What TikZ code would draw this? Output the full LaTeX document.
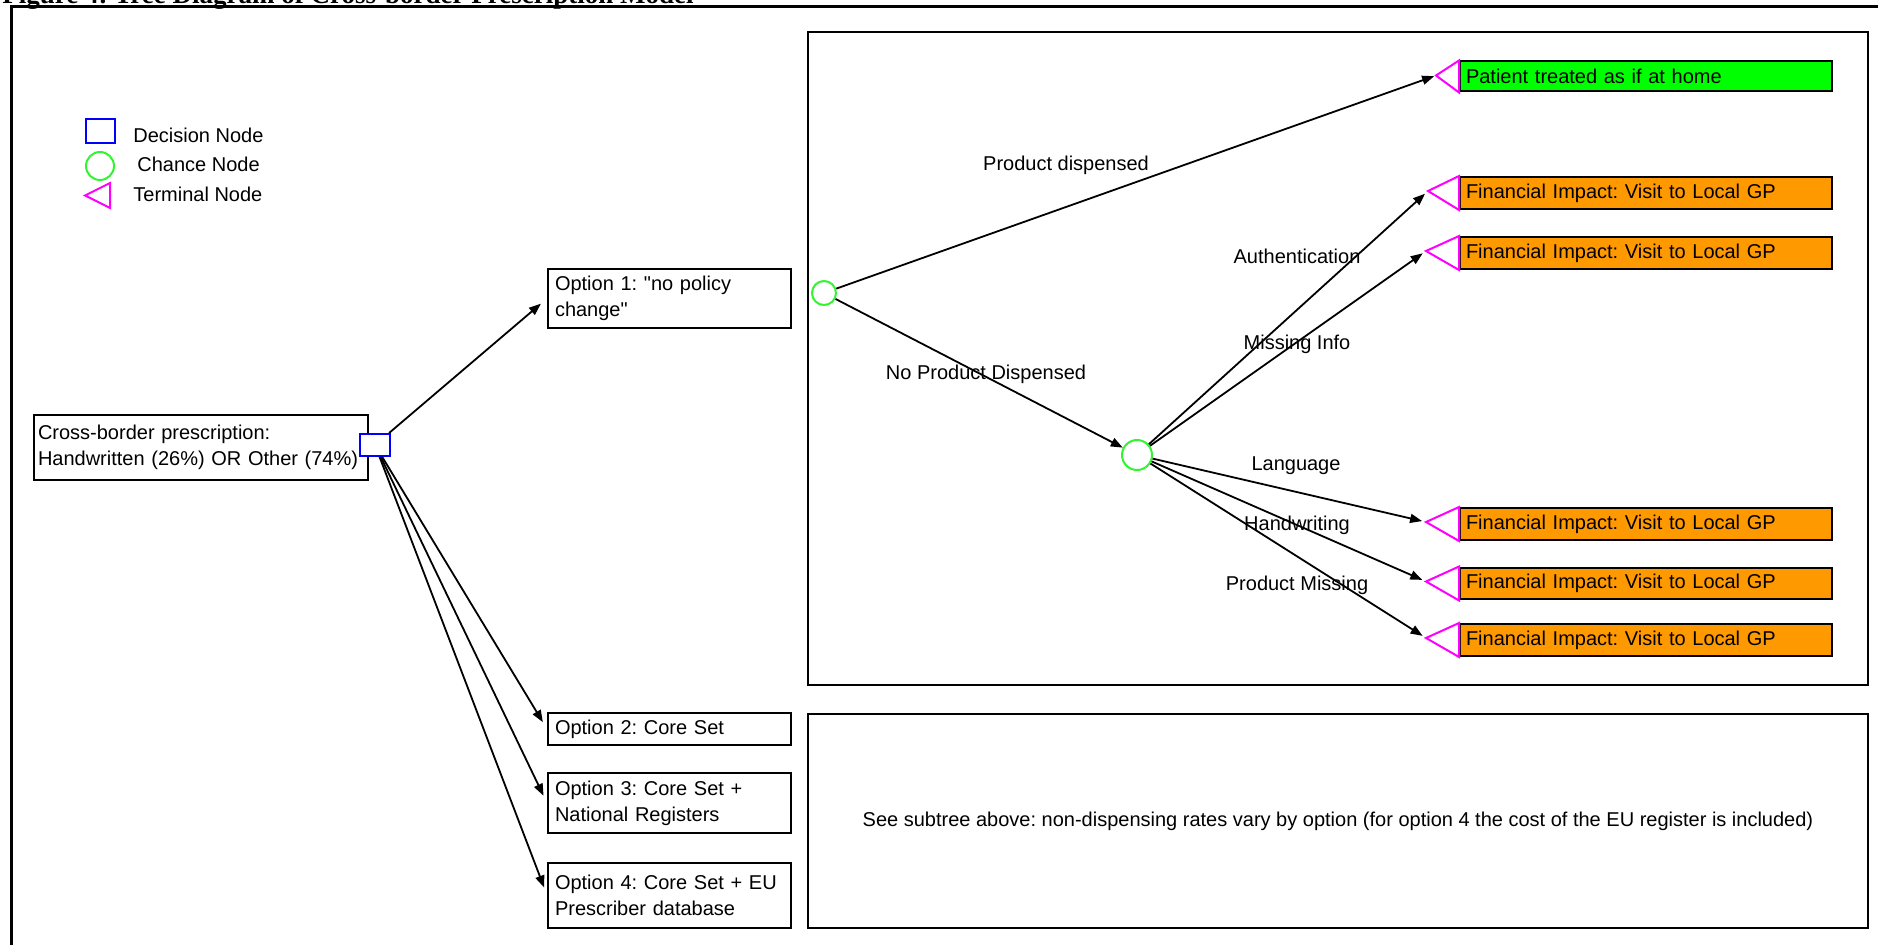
\documentclass[tikz,border=0pt]{standalone}
\usepackage{fontspec}
\setmainfont{Liberation Sans}
\newfontfamily\titlefont{Liberation Serif}
\usepackage{tikz}
\usetikzlibrary{arrows.meta}
\frenchspacing

\definecolor{decblue}{RGB}{0,0,255}
\definecolor{chgreen}{RGB}{50,245,50}
\definecolor{termpink}{RGB}{255,0,255}
\definecolor{homegreen}{RGB}{0,255,0}
\definecolor{gporange}{RGB}{255,153,0}

\begin{document}
\begin{tikzpicture}[x=0.5pt,y=-0.5pt,
    every node/.style={font=\fontsize{10}{13}\selectfont},
    box/.style={draw,line width=1pt,inner xsep=3.5pt,align=left,anchor=west},
    decnode/.style={draw=decblue,fill=white,line width=1pt,inner sep=0pt},
    chnode/.style={draw=chgreen,fill=white,line width=1pt,circle,inner sep=0pt},
    termbox/.style={draw,line width=1pt,minimum width=186pt,minimum height=15pt,inner xsep=3pt,text width=180pt,anchor=west},
    branch/.style={line width=0.9pt,-{Triangle[length=6pt,width=4.5pt]}},
    lbl/.style={inner sep=0pt}]
  \useasboundingbox (0,0) rectangle (1878,945);
  \node[lbl,anchor=base west,font=\titlefont\bfseries\fontsize{13.5}{15}\selectfont] (title) at (2,4) {Figure 4: Tree Diagram of Cross-border Prescription Model};
  \draw[line width=1.5pt] (11,945) -- (11,7) -- (1878,7);

  % legend
  \node[decnode,minimum width=14.5pt,minimum height=12pt] (legdec) at (100.5,131) {};
  \node[lbl,anchor=base west] (legdectxt) at (133,143) {Decision Node};
  \node[chnode,minimum size=14pt] (legch) at (100,166) {};
  \node[lbl,anchor=base west] (legchtxt) at (137,172) {Chance Node};
  \draw[termpink,line width=1pt] (110,183) -- (85,195.5) -- (110,208) -- cycle;
  \node[lbl,anchor=base west] (legtermtxt) at (133,202) {Terminal Node};

  % frames
  \node[draw,line width=1pt,minimum width=530pt,minimum height=326.5pt] (subtree) at (1338,358.5) {};
  \node[draw,line width=1pt,minimum width=530pt,minimum height=107pt] (others) at (1338,821)
    {See subtree above: non-dispensing rates vary by option (for option 4 the cost of the EU register is included)};

  % decision
  \node[box,inner xsep=2pt,text width=163pt,minimum height=32.5pt] (root) at (33,447.5)
    {Cross-border prescription:\\Handwritten (26\%) OR Other (74\%)};
  \node[decnode,minimum width=15pt,minimum height=11pt] (dec) at (375,445) {};
  \foreach \n/\y/\h/\txt in {
      1/298.5/29.5/{Option 1: \textquotedbl no policy\\change\textquotedbl},
      2/729/15/{Option 2: Core Set},
      3/803/30/{Option 3: Core Set +\\National Registers},
      4/895/32.5/{Option 4: Core Set + EU\\Prescriber database}} {
    \node[box,text width=114.5pt,minimum height=\h pt] (opt\n) at (547,\y) {\txt};
    \draw[branch,shorten >=4pt] (dec) -- (opt\n.west);
  }

  % terminals
  \foreach \n/\y/\w/\col/\txt in {
      home/76.5/23/homegreen/Patient treated as if at home,
      gp1/193/31/gporange/Financial Impact: Visit to Local GP,
      gp2/253/33/gporange/Financial Impact: Visit to Local GP,
      gp3/524/33/gporange/Financial Impact: Visit to Local GP,
      gp4/583.5/33/gporange/Financial Impact: Visit to Local GP,
      gp5/640/33/gporange/Financial Impact: Visit to Local GP} {
    \node[termbox,fill=\col] (\n) at (1459,\y) {\txt};
    \draw[termpink,line width=1pt] (\n.north west) -- ++(-\w,15) coordinate (t\n) -- (\n.south west) -- cycle;
  }

  % chance nodes
  \node[chnode,minimum size=12pt] (ch1) at (824,293) {};
  \node[chnode,minimum size=15pt] (ch2) at (1137,455) {};
  \draw[branch,shorten >=1pt] (ch1) -- (thome);
  \draw[branch] (ch1) -- (ch2);
  \foreach \n in {gp1,gp2,gp3,gp4,gp5}
    \draw[branch,shorten >=2pt] (ch2) -- (t\n);

  \node[lbl] (ldisp) at (1066,165) {Product dispensed};
  \node[lbl] (lnodisp) at (986,374) {No Product Dispensed};
  \node[lbl] (lauth) at (1297,256) {Authentication};
  \node[lbl] (lmiss) at (1297,344) {Missing Info};
  \node[lbl] (llang) at (1296,466) {Language};
  \node[lbl] (lhand) at (1297,525) {Handwriting};
  \node[lbl] (lprod) at (1297,585) {Product Missing};
\end{tikzpicture}
\end{document}
